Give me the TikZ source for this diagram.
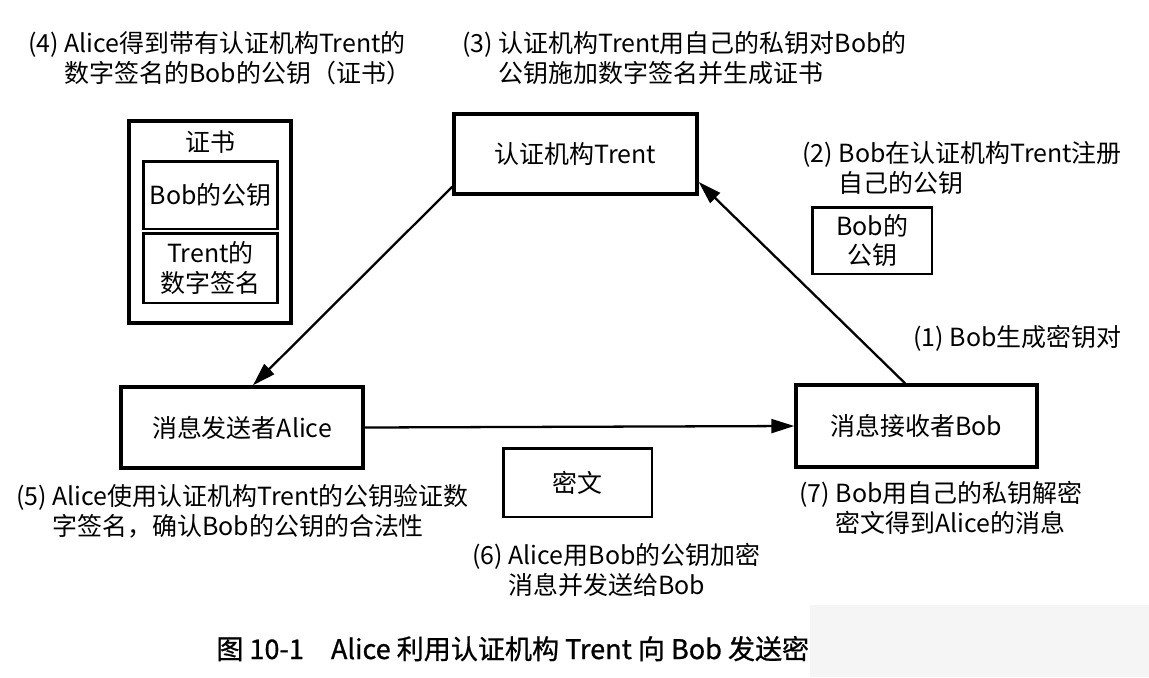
\documentclass[tikz,border=0pt]{standalone}
\usepackage{fontspec}
\setmainfont{Noto Sans CJK SC}
\usepackage{tikz}
\usetikzlibrary{arrows.meta,positioning}
\tikzset{
	box/.style={draw, line width=2pt, align=center, inner sep=3pt},
	smallbox/.style={draw, line width=1.7pt, align=center, inner sep=2pt},
	arrow/.style={-{Triangle[length=0.46cm,width=0.28cm]}, line width=1.3pt},
	steplabel/.style={anchor=base west, align=left, inner sep=0pt}
}

\begin{document}
\begin{tikzpicture}[x=0.02cm, y=-0.02cm,
			font=\fontsize{14.2}{17}\selectfont,
			]
			\useasboundingbox (0,0) rectangle (1149,677);
			\fill[black!4] (810,605) rectangle (1149,677);
			
			%% -- The three parties
			\node[box, minimum width=4.86cm, minimum height=1.6cm] (trent) at (575.5,154)
			{认证机构Trent};
			
			\node[box, minimum width=4.84cm, minimum height=1.62cm] (alice) at (242,427.5)
			{消息发送者Alice};
			
			\node[box, minimum width=4.82cm, minimum height=1.64cm] (bob) at (916.5,426)
			{消息接收者Bob};
			
			\draw[arrow] ([yshift=0.18cm]trent.south west) -- ([xshift=0.22cm]alice.north);
			\draw[arrow] ([xshift=-0.23cm]bob.north) -- ([yshift=-0.56cm]trent.east);
			\draw[arrow] (alice.east) -- (bob.west);
			
			%% -- Certificate (left)
			\node[box, minimum width=3.24cm, minimum height=4.04cm] (cert) at (210,222) {};
			\node[inner sep=0pt] (certtitle) at (210,142) {证书};
			\node[smallbox, minimum width=2.7cm, minimum height=1.36cm] (certkey) at (210.5,195)
			{Bob的公钥};
			\node[smallbox, minimum width=2.7cm, minimum height=1.4cm] (certsig) at (210.5,268)
			{Trent的\\数字签名};
			
			%% -- Public key and ciphertext
			\node[smallbox, minimum width=2.4cm, minimum height=1.34cm] (bobkey) at (872,240.5)
			{Bob的\\公钥};
			\node[smallbox, minimum width=2.98cm, minimum height=1.38cm] (cipher) at (577.5,482.5)
			{密文};
			
			%% -- Step descriptions (base = last line)
			\node[steplabel] (s1) at (913,346) {(1) Bob生成密钥对};
			\node[steplabel] (s2) at (802,192)
			{(2) Bob在认证机构Trent注册\\\phantom{(2) }自己的公钥};
			\node[steplabel] (s3) at (462,82)
			{(3) 认证机构Trent用自己的私钥对Bob的\\\phantom{(3) }公钥施加数字签名并生成证书};
			\node[steplabel] (s4) at (28,82)
			{(4) Alice得到带有认证机构Trent的\\\phantom{(4) }数字签名的Bob的公钥（证书）};
			\node[steplabel] (s5) at (16,535)
			{(5) Alice使用认证机构Trent的公钥验证数\\\phantom{(5) }字签名，确认Bob的公钥的合法性};
			\node[steplabel] (s6) at (472,594)
			{(6) Alice用Bob的公钥加密\\\phantom{(6) }消息并发送给Bob};
			\node[steplabel] (s7) at (799,532)
			{(7) Bob用自己的私钥解密\\\phantom{(7) }密文得到Alice的消息};
			
			%% -- Caption
			\node[anchor=base west, inner sep=0pt, font=\fontsize{15.4}{18}\selectfont\addfontfeature{FakeBold=0.8}]
			(caption) at (216,659)
			{图 10-1\quad Alice 利用认证机构 Trent 向 Bob 发送密};
			
		\end{tikzpicture}
\end{document}
